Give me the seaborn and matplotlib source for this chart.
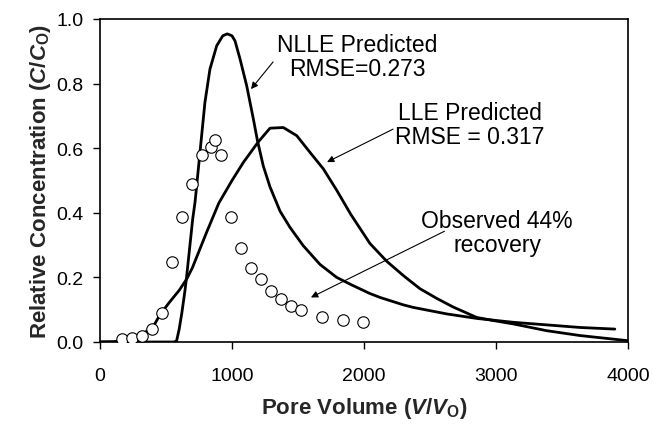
import matplotlib
matplotlib.use("Agg")
import matplotlib.pyplot as plt
import seaborn as sns
import pandas as pd

# Observed breakthrough data (pore volume, relative concentration)
obs_pv = [164, 245, 320, 394, 470, 545, 619, 694, 770, 843, 874, 919, 995,
          1071, 1146, 1222, 1298, 1374, 1449, 1525, 1682, 1838, 1990]
obs_c = [0.010, 0.012, 0.020, 0.040, 0.090, 0.247, 0.388, 0.490, 0.580, 0.605,
         0.625, 0.580, 0.388, 0.290, 0.230, 0.194, 0.158, 0.133, 0.112, 0.099,
         0.078, 0.068, 0.061]

# NLLE model prediction
nlle_pv = [0, 200, 400, 560, 580, 600, 620, 644, 657, 702, 720, 745, 770, 795,
           833, 884, 930, 964, 1000, 1023, 1061, 1111, 1162, 1192, 1237, 1288,
           1364, 1439, 1540, 1667, 1793, 1900, 2045, 2121, 2298, 2374, 2626,
           2854, 3131, 3384, 3636, 3900]
nlle_c = [0.0, 0.0, 0.0, 0.0, 0.003, 0.04, 0.09, 0.16, 0.205, 0.38, 0.433,
          0.536, 0.639, 0.742, 0.845, 0.917, 0.948, 0.954, 0.948, 0.932, 0.876,
          0.794, 0.69, 0.625, 0.545, 0.48, 0.405, 0.355, 0.298, 0.24, 0.20,
          0.178, 0.15, 0.138, 0.115, 0.107, 0.087, 0.073, 0.061, 0.053, 0.045,
          0.040]

# LLE model prediction
lle_pv = [0, 100, 200, 300, 400, 455, 530, 600, 657, 700, 808, 900, 1000, 1086,
          1200, 1288, 1389, 1490, 1591, 1692, 1793, 1900, 2045, 2172, 2300,
          2424, 2551, 2677, 2854, 3000, 3131, 3384, 3636, 4000]
lle_c = [0.0, 0.001, 0.005, 0.02, 0.045, 0.085, 0.125, 0.16, 0.195, 0.23, 0.34,
         0.43, 0.50, 0.556, 0.62, 0.662, 0.664, 0.639, 0.587, 0.536, 0.47,
         0.395, 0.305, 0.25, 0.205, 0.165, 0.135, 0.108, 0.076, 0.065, 0.056,
         0.035, 0.02, 0.004]

x_ticks = [0, 1000, 2000, 3000, 4000]
y_ticks = [0.0, 0.2, 0.4, 0.6, 0.8, 1.0]

sns.set_theme(style="ticks")
plt.rcParams["font.family"] = ["Liberation Sans", "DejaVu Sans"]
plt.rcParams["mathtext.fontset"] = "custom"
plt.rcParams["mathtext.rm"] = "Liberation Sans:bold"
plt.rcParams["mathtext.it"] = "Liberation Sans:bold:italic"
plt.rcParams["mathtext.bf"] = "Liberation Sans:bold"

fig = plt.figure(figsize=(6.53, 4.27), dpi=100)
ax = fig.add_axes([100 / 653, 1 - 343 / 427, 528 / 653, 323 / 427])

nlle_df = pd.DataFrame({"pv": nlle_pv, "c": nlle_c})
lle_df = pd.DataFrame({"pv": lle_pv, "c": lle_c})
obs_df = pd.DataFrame({"pv": obs_pv, "c": obs_c})

sns.lineplot(data=nlle_df, x="pv", y="c", ax=ax, color="black", lw=2.0,
             sort=False, estimator=None, zorder=2)
sns.lineplot(data=lle_df, x="pv", y="c", ax=ax, color="black", lw=2.0,
             sort=False, estimator=None, zorder=2)
sns.scatterplot(data=obs_df, x="pv", y="c", ax=ax, s=68, facecolor="white",
                edgecolor="black", linewidth=0.8, zorder=3)

ax.set_xlim(0, 4000)
ax.set_ylim(0, 1.0)
ax.set_xticks(x_ticks)
ax.set_yticks(y_ticks)
ax.set_yticklabels([f"{v:.1f}" for v in y_ticks])
ax.tick_params(axis="both", direction="out", length=5, width=1.0,
               color="black", labelsize=14, labelcolor="black")
ax.tick_params(axis="x", pad=13)
ax.tick_params(axis="y", pad=7)
for sp in ax.spines.values():
    sp.set_visible(True)
    sp.set_color("black")
    sp.set_linewidth(1.2)

ax.set_xlabel(r"Pore Volume ($V/V_{\mathrm{O}}$)", fontsize=16,
              fontweight="bold", labelpad=8)
ax.set_ylabel(r"Relative Concentration ($C$/$C_{\mathrm{O}}$)", fontsize=16,
              fontweight="bold", labelpad=2)

arrow = dict(arrowstyle="-|>", color="black", lw=0.8, mutation_scale=10,
             shrinkA=0, shrinkB=0)
ax.annotate("", xy=(1144, 0.783), xytext=(1311, 0.867), arrowprops=arrow)
ax.annotate("", xy=(1720, 0.557), xytext=(2220, 0.659), arrowprops=arrow)
ax.annotate("", xy=(1598, 0.138), xytext=(2610, 0.343), arrowprops=arrow)

txt = dict(ha="center", va="center", fontsize=16.5, color="black",
           linespacing=1.05)
ax.text(1947, 0.885, "NLLE Predicted\nRMSE=0.273", **txt)
ax.text(2803, 0.673, "LLE Predicted\nRMSE = 0.317", **txt)
ax.text(3008, 0.339, "Observed 44%\nrecovery", **txt)

fig.savefig("out.png", dpi=100, facecolor="white")
